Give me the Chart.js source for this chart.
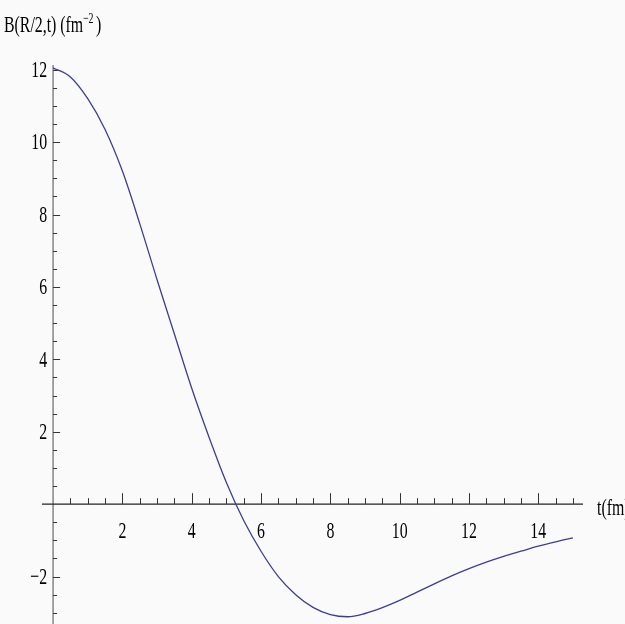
<!DOCTYPE html>
<html>
<head>
<meta charset="utf-8">
<script src="https://cdn.jsdelivr.net/npm/chart.js@4.4.0/dist/chart.umd.min.js"></script>
<style>
  html, body { margin: 0; padding: 0; background: #fafafa; }
  canvas { display: block; }
</style>
</head>
<body>
<canvas id="bGraph" width="625" height="624"></canvas>
<script>
const tValues = [0, 0.5, 1, 1.5, 2, 2.5, 3, 3.5, 4, 4.5, 5, 5.5, 6, 6.5, 7, 7.5,
                 8, 8.5, 9, 9.5, 10, 10.5, 11, 11.5, 12, 12.5, 13, 13.5, 14, 14.5, 15];
const bValues = [12.05, 11.8, 11.2, 10.35, 9.2, 7.75, 6.2, 4.7, 3.2, 1.85, 0.6, -0.45, -1.3, -2.0, -2.5, -2.85,
                 -3.05, -3.11, -3.02, -2.86, -2.66, -2.43, -2.2, -1.98, -1.78, -1.6, -1.44, -1.3, -1.16, -1.04, -0.93];

const xTickLabels = [2, 4, 6, 8, 10, 12, 14];
const yTickLabels = [-2, 2, 4, 6, 8, 10, 12];
const xMinorTicks = [];
for (let i = 1; i <= 30; i++) xMinorTicks.push(i / 2);
const yMinorTicks = [];
for (let i = -6; i <= 24; i++) if (i !== 0) yMinorTicks.push(i / 2);

const serif = '"Liberation Serif", "Times New Roman", "DejaVu Serif", serif';

// narrow serif text like the original
function squeezedText(ctx, str, x, y, size, align, baseline) {
    ctx.save();
    ctx.translate(x, y);
    ctx.scale(0.66, 1);
    ctx.font = size + 'px ' + serif;
    ctx.textAlign = align;
    ctx.textBaseline = baseline;
    ctx.fillText(str, 0, 0);
    ctx.restore();
}

// axes through the origin, Mathematica style
const originAxes = {
    id: 'originAxes',
    beforeDatasetsDraw(chart) {
        const ctx = chart.ctx;
        const xs = chart.scales.x;
        const ys = chart.scales.y;
        const area = chart.chartArea;
        const x0 = xs.getPixelForValue(0);
        const y0 = ys.getPixelForValue(0);

        ctx.save();
        // y axis
        ctx.strokeStyle = '#8c8c8c';
        ctx.lineWidth = 1.6;
        ctx.beginPath();
        ctx.moveTo(x0, area.top);
        ctx.lineTo(x0, area.bottom);
        ctx.stroke();

        // x axis
        ctx.strokeStyle = '#222';
        ctx.lineWidth = 1.3;
        ctx.beginPath();
        ctx.moveTo(area.left, y0);
        ctx.lineTo(area.right, y0);
        ctx.stroke();

        // tick marks
        ctx.strokeStyle = '#333';
        ctx.lineWidth = 1;
        ctx.beginPath();
        xMinorTicks.forEach(v => {
            const px = Math.round(xs.getPixelForValue(v)) + 0.5;
            const len = v % 2 === 0 ? 11 : 6;
            ctx.moveTo(px, y0);
            ctx.lineTo(px, y0 - len);
        });
        yMinorTicks.forEach(v => {
            const py = Math.round(ys.getPixelForValue(v)) + 0.5;
            const len = v % 2 === 0 ? 7 : 4;
            ctx.moveTo(x0, py);
            ctx.lineTo(x0 + len, py);
        });
        ctx.stroke();

        // tick labels
        ctx.fillStyle = '#000';
        xTickLabels.forEach(v => {
            squeezedText(ctx, String(v), xs.getPixelForValue(v), y0 + 28, 24, 'center', 'middle');
        });
        yTickLabels.forEach(v => {
            const str = v < 0 ? '\u2212' + Math.abs(v) : String(v);
            squeezedText(ctx, str, x0 - 6, ys.getPixelForValue(v) + 1, 24, 'right', 'middle');
        });

        // axis titles
        squeezedText(ctx, 't(fm)', 597, y0 + 11, 24, 'left', 'alphabetic');
        squeezedText(ctx, 'B(R/2,t) (fm', 4, 32, 24, 'left', 'alphabetic');
        squeezedText(ctx, '\u22122', 83, 23, 15, 'left', 'alphabetic');
        squeezedText(ctx, ')', 96, 32, 24, 'left', 'alphabetic');
        ctx.restore();
    }
};

const bCtx = document.getElementById('bGraph').getContext('2d');
const bGraph = new Chart(bCtx, {
    type: 'line',
    data: {
        datasets: [{
            label: 'B(R/2,t)',
            data: tValues.map((t, i) => ({ x: t, y: bValues[i] })),
            borderColor: '#3d3d99',
            borderWidth: 1.3,
            pointRadius: 0,
            fill: false,
            cubicInterpolationMode: 'monotone'
        }]
    },
    options: {
        responsive: false,
        animation: false,
        layout: { padding: { left: 42, right: 42, top: 65, bottom: 0 } },
        plugins: {
            legend: { display: false },
            tooltip: { enabled: false }
        },
        scales: {
            x: { type: 'linear', min: -0.32, max: 15.29, display: false },
            y: { type: 'linear', min: -3.31, max: 12.13, display: false }
        }
    },
    plugins: [originAxes]
});
</script>
</body>
</html>
